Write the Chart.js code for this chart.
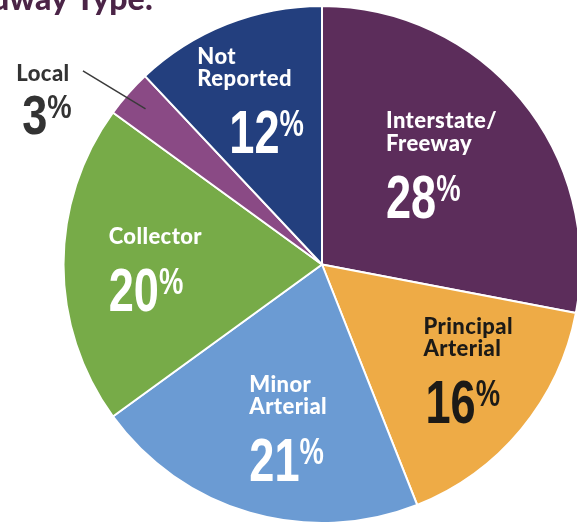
<!DOCTYPE html>
<html>
<head>
<meta charset="utf-8">
<script src="https://cdn.jsdelivr.net/npm/chart.js@4"></script>
<style>
  html, body { margin: 0; padding: 0; background: #fff; overflow: hidden; width: 577px; height: 524px; }
  #pie { position: absolute; left: 0; top: 0; }
</style>
</head>
<body>
<canvas id="pie" width="660" height="524"></canvas>
<script>
// Data
const categories = ['Interstate/Freeway', 'Principal Arterial', 'Minor Arterial', 'Collector', 'Local', 'Not Reported'];
const labelLines = [['Interstate/', 'Freeway'], ['Principal', 'Arterial'], ['Minor', 'Arterial'], ['Collector'], ['Local'], ['Not', 'Reported']];
const shares = [28, 16, 21, 20, 3, 12];
const titleText = 'By Roadway Type:';

// Styles
const sliceColors = ['#5c2d5b', '#eeab46', '#6b9bd3', '#77ab48', '#8a4a85', '#233f7e'];
const textColors = ['#ffffff', '#1c1a17', '#ffffff', '#ffffff', '#333333', '#ffffff'];
const labelRadius = [0.60, 0.70, 0.65, 0.645, 1.19, 0.69]; // fraction of radius for label centre
const labelShift = [0, -3.5, -4.6, -2, -2.4, -2];            // degrees, off the slice's mid angle
const numIndent = [0, 2, 0, 0, 0, 32];

const NAME_FONT = '900 22px Lato, "Open Sans", sans-serif';
const NAME_SPACING = '0.4px';
const NUM_FONT = 'bold 61px "Liberation Sans", Arial, sans-serif';
const PCT_FONT = 'bold 37px "Liberation Sans", Arial, sans-serif';
const NUM_SCALE = 0.74;
const CAP_H = 15;
const LINE_H = 22.5;
const DIGIT_H = 44;

function drawNumber(ctx, value, left, top, color) {
  ctx.save();
  ctx.fillStyle = color;
  ctx.textAlign = 'left';
  ctx.textBaseline = 'alphabetic';
  ctx.translate(left, top);
  ctx.scale(NUM_SCALE, 1);
  ctx.font = NUM_FONT;
  const numText = String(value);
  ctx.fillText(numText, 0, DIGIT_H);
  const w = ctx.measureText(numText).width;
  ctx.font = PCT_FONT;
  ctx.fillText('%', w, 27);
  ctx.restore();
}

function numberWidth(ctx, value) {
  ctx.save();
  ctx.font = NUM_FONT;
  let w = ctx.measureText(String(value)).width;
  ctx.font = PCT_FONT;
  w += ctx.measureText('%').width;
  ctx.restore();
  return w * NUM_SCALE;
}

function setNameFont(ctx) {
  ctx.font = NAME_FONT;
  ctx.letterSpacing = NAME_SPACING;
}

const sliceLabels = {
  id: 'sliceLabels',
  afterDatasetsDraw(chart) {
    const ctx = chart.ctx;
    const meta = chart.getDatasetMeta(0);

    // Title (cut off at the top of the picture)
    ctx.save();
    ctx.font = '900 32px Lato, sans-serif';
    ctx.fillStyle = '#4b2447';
    ctx.textAlign = 'right';
    ctx.textBaseline = 'alphabetic';
    ctx.fillText(titleText, 153, 10);
    ctx.restore();

    meta.data.forEach((arc, i) => {
      const p = arc.getProps(['x', 'y', 'startAngle', 'endAngle', 'outerRadius'], true);
      const mid = (p.startAngle + p.endAngle) / 2;
      const ang = mid + labelShift[i] * Math.PI / 180;
      const r = p.outerRadius * labelRadius[i];
      const ax = p.x + Math.cos(ang) * r;
      const ay = p.y + Math.sin(ang) * r;
      const lines = labelLines[i];

      ctx.save();
      setNameFont(ctx);
      const nameW = Math.max(...lines.map(l => ctx.measureText(l).width));
      ctx.restore();

      if (labelRadius[i] > 1) {
        // outside label with leader line
        const r0 = p.outerRadius * 0.91;
        ctx.save();
        ctx.strokeStyle = '#3a3a3a';
        ctx.lineWidth = 1.5;
        ctx.beginPath();
        ctx.moveTo(p.x + Math.cos(mid) * r0, p.y + Math.sin(mid) * r0);
        ctx.lineTo(ax, ay);
        ctx.stroke();
        ctx.restore();

        const cx = ax - 40;
        const top = ay - 5;
        ctx.save();
        setNameFont(ctx);
        ctx.fillStyle = textColors[i];
        ctx.textAlign = 'center';
        ctx.fillText(lines[0], cx, top + CAP_H);
        ctx.restore();
        const nw = numberWidth(ctx, shares[i]);
        ctx.save();
        ctx.translate(cx - nw / 2 + 4, top + 28);
        ctx.scale(1, 40 / DIGIT_H);
        drawNumber(ctx, shares[i], 0, 0, textColors[i]);
        ctx.restore();
        return;
      }

      const numW = numberWidth(ctx, shares[i]) + numIndent[i];
      const blockW = Math.max(nameW, numW);
      const gap = 23;
      const blockH = CAP_H + (lines.length - 1) * LINE_H + gap + DIGIT_H;
      const left = ax - blockW / 2;
      const top = ay - blockH / 2;

      ctx.save();
      setNameFont(ctx);
      ctx.fillStyle = textColors[i];
      ctx.textAlign = 'left';
      ctx.textBaseline = 'alphabetic';
      lines.forEach((line, k) => {
        ctx.fillText(line, left, top + CAP_H + k * LINE_H);
      });
      ctx.restore();

      const numTop = top + CAP_H + (lines.length - 1) * LINE_H + gap;
      drawNumber(ctx, shares[i], left + numIndent[i], numTop, textColors[i]);
    });
  }
};

document.addEventListener('DOMContentLoaded', () => {
  const ctx = document.getElementById('pie').getContext('2d');
  new Chart(ctx, {
    type: 'pie',
    data: {
      labels: categories,
      datasets: [{
        data: shares,
        backgroundColor: sliceColors,
        borderColor: '#ffffff',
        borderWidth: 2
      }]
    },
    options: {
      responsive: false,
      animation: false,
      devicePixelRatio: 1,
      layout: { padding: { left: 62, right: 78, top: 5, bottom: 0 } },
      plugins: {
        legend: { display: false },
        tooltip: { enabled: false }
      }
    },
    plugins: [sliceLabels]
  });
});
</script>
</body>
</html>
